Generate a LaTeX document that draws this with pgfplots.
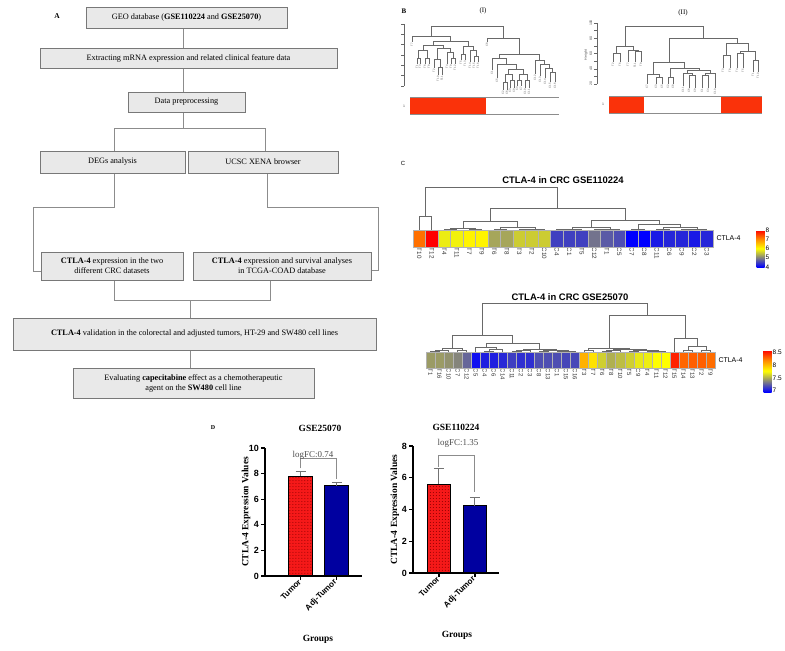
\documentclass[border=0pt]{standalone}
\usepackage{fontspec}
\setmainfont{Liberation Serif}
\setsansfont{Liberation Sans}
\usepackage{pgfplots}
\pgfplotsset{compat=1.18}
\usetikzlibrary{patterns}

\definecolor{boxfill}{RGB}{233,233,233}
\definecolor{boxdraw}{RGB}{120,120,120}
\definecolor{linegray}{RGB}{140,140,140}
\definecolor{dendro}{RGB}{105,105,105}
\definecolor{grpred}{RGB}{250,50,10}
\definecolor{barred}{RGB}{245,25,25}
\definecolor{barblue}{RGB}{0,0,160}

\pgfplotsset{
  colormap={ctla}{rgb255=(0,0,255) rgb255=(128,128,128) rgb255=(255,255,0) rgb255=(255,140,0) rgb255=(255,0,0)},
  /pgf/number format/assume math mode=true,
}

\pgfdeclareplotmark{cellA}{\pgfpathrectangle{\pgfpoint{-6.25bp}{-8.5bp}}{\pgfpoint{12.5bp}{17bp}}\pgfusepathqfillstroke}
\pgfdeclareplotmark{cellB}{\pgfpathrectangle{\pgfpoint{-4.515bp}{-8bp}}{\pgfpoint{9.03bp}{16bp}}\pgfusepathqfillstroke}

\begin{document}
\begin{tikzpicture}[x=1bp,y=-1bp]
\path[use as bounding box] (0,0) rectangle (785,651);

% ---------------- Panel A: flowchart ----------------
\begin{scope}[every node/.style={font=\fontsize{8.3}{10}\selectfont, align=center, inner sep=0pt}]
\tikzset{bx/.style={fill=boxfill, draw=boxdraw, line width=0.9bp}, ln/.style={draw=linegray, line width=0.9bp}}
\node[font=\bfseries\fontsize{7.5}{9}\selectfont] at (57,16) {A};
\draw[ln] (183,28) -- (183,48);
\draw[ln] (183,68) -- (183,92);
\draw[ln] (183,112) -- (183,128);
\draw[ln] (114,151) -- (114,128) -- (265,128) -- (265,151);
\draw[ln] (114,173) -- (114,207) -- (33,207) -- (33,271) -- (41,271);
\draw[ln] (267,173) -- (267,207) -- (378,207) -- (378,270) -- (371,270);
\draw[ln] (114,280) -- (114,300) -- (270,300) -- (270,280);
\draw[ln] (190,300) -- (190,318);
\draw[ln] (190,350) -- (190,368);
\draw[bx] (86,7) rectangle (287,28);
\node at (186.5,17.5) {GEO database (\textbf{GSE110224} and \textbf{GSE25070})};
\draw[bx] (40,48) rectangle (337,68);
\node at (188.5,58) {Extracting mRNA expression and related clinical feature data};
\draw[bx] (128,92) rectangle (245,112);
\node at (186.5,102) {Data preprocessing};
\draw[bx] (40,151) rectangle (185,173);
\node at (112.5,162) {DEGs analysis};
\draw[bx] (188,151) rectangle (338,173);
\node at (263,162) {UCSC XENA browser};
\draw[bx] (41,252) rectangle (183,280);
\node at (112,266) {\textbf{CTLA-4} expression in the two\\different CRC datasets};
\draw[bx] (193,252) rectangle (371,280);
\node at (282,266) {\textbf{CTLA-4} expression and survival analyses\\in TCGA-COAD database};
\draw[bx] (13,318) rectangle (376,350);
\node at (194.5,334) {\textbf{CTLA-4} validation in the colorectal and adjusted tumors, HT-29 and SW480 cell lines};
\draw[bx] (73,368) rectangle (314,398);
\node at (193.5,383) {Evaluating \textbf{capecitabine} effect as a chemotherapeutic\\agent on the \textbf{SW480} cell line};
\end{scope}

% ---------------- Panel B: dendrograms ----------------
\begin{axis}[at={(400bp,0bp)}, anchor=north west, scale only axis, width=385bp, height=120bp,
  xmin=400, xmax=785, ymin=0, ymax=120, y dir=reverse, hide axis, clip=false, unbounded coords=jump]
\addplot[dendro, line width=0.5bp] coordinates {
(417,64)(417,58)(420,58)(420,64)(nan,nan)
(425,64)(425,58)(429,58)(429,64)(nan,nan)
(418.5,58)(418.5,50)(427,50)(427,58)(nan,nan)
(438,75)(438,67)(442,67)(442,75)(nan,nan)
(434,68)(434,59)(440,59)(440,67)(nan,nan)
(451,64)(451,58)(455,58)(455,64)(nan,nan)
(447,64)(447,52)(453,52)(453,58)(nan,nan)
(437,59)(437,48)(450,48)(450,52)(nan,nan)
(422.75,50)(422.75,45)(443.5,45)(443.5,48)(nan,nan)
(461,60)(461,54)(465,54)(465,60)(nan,nan)
(474,62)(474,56)(478,56)(478,62)(nan,nan)
(470,62)(470,50)(476,50)(476,56)(nan,nan)
(463,54)(463,46)(473,46)(473,50)(nan,nan)
(433.1,45)(433.1,41)(468,41)(468,46)(nan,nan)
(412,42)(412,36)(450.55,36)(450.55,41)(nan,nan)
(550,82)(550,72)(555,72)(555,82)(nan,nan)
(545,78)(545,68)(552.5,68)(552.5,72)(nan,nan)
(540,76)(540,64)(548.75,64)(548.75,68)(nan,nan)
(535,74)(535,60)(544.4,60)(544.4,64)(nan,nan)
(503,90)(503,82)(507,82)(507,90)(nan,nan)
(510,88)(510,80)(514,80)(514,88)(nan,nan)
(505,82)(505,74)(512,74)(512,80)(nan,nan)
(517,86)(517,80)(521,80)(521,86)(nan,nan)
(525,88)(525,80)(529,80)(529,88)(nan,nan)
(519,80)(519,74)(527,74)(527,80)(nan,nan)
(508.5,74)(508.5,69)(523,69)(523,74)(nan,nan)
(497,78)(497,64)(515.75,64)(515.75,69)(nan,nan)
(492,70)(492,58)(506.4,58)(506.4,64)(nan,nan)
(499.2,58)(499.2,54)(539.7,54)(539.7,60)(nan,nan)
(487,42)(487,38)(519.45,38)(519.45,54)(nan,nan)
(431.3,36)(431.3,26)(503.2,26)(503.2,38)
};
\addplot[dendro, line width=0.5bp] coordinates {
(613,62)(613,53)(620,53)(620,62)(nan,nan)
(635,62)(635,51)(641,51)(641,62)(nan,nan)
(628,62)(628,50)(638,50)(638,51)(nan,nan)
(616.5,53)(616.5,46.7)(633,46.7)(633,50)(nan,nan)
(656,84)(656,77)(662,77)(662,84)(nan,nan)
(647,84)(647,74)(659,74)(659,77)(nan,nan)
(668,84)(668,77)(673,77)(673,84)(nan,nan)
(689,88)(689,75)(695,75)(695,88)(nan,nan)
(683,86)(683,73)(692,73)(692,75)(nan,nan)
(702,88)(702,75)(708,75)(708,88)(nan,nan)
(705,75)(705,73.5)(715,73.5)(715,88)(nan,nan)
(687.5,73)(687.5,70)(710,70)(710,73.5)(nan,nan)
(670.5,77)(670.5,68)(698.75,68)(698.75,70)(nan,nan)
(653,74)(653,62)(684.6,62)(684.6,68)(nan,nan)
(723,68)(723,55)(730,55)(730,68)(nan,nan)
(737,68)(737,53)(743,53)(743,68)(nan,nan)
(753,72)(753,60)(758,60)(758,72)(nan,nan)
(740,53)(740,51)(755.5,51)(755.5,60)(nan,nan)
(726.5,55)(726.5,43)(747.75,43)(747.75,51)(nan,nan)
(668.8,62)(668.8,38)(737.1,38)(737.1,43)(nan,nan)
(624.75,46.7)(624.75,26)(702.9,26)(702.9,38)
};
% group colour bars
\addplot[fill=grpred, draw=none] coordinates {(410,97)(486,97)(486,114)(410,114)} -- cycle;
\addplot[fill=grpred, draw=none] coordinates {(609,96)(644,96)(644,113)(609,113)} -- cycle;
\addplot[fill=grpred, draw=none] coordinates {(721,96)(762,96)(762,113)(721,113)} -- cycle;
\addplot[black!45, line width=0.5bp] coordinates {(410,97)(559,97)(nan,nan)(410,114)(559,114)};
\addplot[black!45, line width=0.5bp] coordinates {(609,96)(762,96)(nan,nan)(609,113)(762,113)};
\end{axis}
% B leaf labels
\begin{scope}[every node/.style={rotate=90, anchor=east, font=\sffamily\fontsize{2.8}{3}\selectfont, text=black!65, inner sep=0.3pt}]
\foreach \x/\y/\l in {412/42/T7,417/64/T1,420/64/T3,425/64/T6,429/64/T8,434/68/T2,438/75/T10,442/75/T11,447/64/T4,451/64/T9,455/64/T12,461/60/T5,465/60/T13,470/62/T14,474/62/T15,478/62/T16,
  487/42/C8,492/70/C1,497/78/C5,503/90/C2,507/90/C6,510/88/C3,514/88/C9,517/86/C4,521/86/C7,525/88/C10,529/88/C11,535/74/C12,540/76/C13,545/78/C14,550/82/C15,555/82/C16}
  \node at (\x,\y+0.8) {\l};
\foreach \x/\y/\l in {613/62/T2,620/62/T6,628/62/T7,635/62/T11,641/62/T9,
  647/84/C7,656/84/C3,662/84/C5,668/84/C2,673/84/C8,683/86/C11,689/88/C6,695/88/C9,702/88/C1,708/88/C4,715/88/C10,
  723/68/T3,730/68/T8,737/68/T4,743/68/T5,753/72/T1,758/72/T10}
  \node at (\x,\y+0.8) {\l};
\end{scope}
% B axes decorations
\draw[black!60, line width=0.4bp] (404,24) -- (404,86);
\foreach \t in {24,34.33,44.67,55,65.33,75.67,86} \draw[black!60, line width=0.4bp] (401,\t) -- (404,\t);
\draw[black!60, line width=0.4bp] (597,23) -- (597,84);
\foreach \t in {23,30.625,38.25,45.875,53.5,61.125,68.75,76.375,84} \draw[black!60, line width=0.4bp] (594,\t) -- (597,\t);
\foreach \t/\l in {23/100,38.25/80,53.5/60,68.75/40,84/20} \node[rotate=90, font=\sffamily\fontsize{3.5}{4}\selectfont, text=black!70, inner sep=0pt] at (591,\t) {\l};
\node[rotate=90, font=\sffamily\fontsize{3.5}{4}\selectfont, text=black!70, inner sep=0pt] at (586,55) {Height};
\node[font=\sffamily\fontsize{3.5}{4}\selectfont, text=black!70, inner sep=0pt] at (404,106) {1};
\node[font=\sffamily\fontsize{3.5}{4}\selectfont, text=black!70, inner sep=0pt] at (603,104) {1};
\node[font=\bfseries\fontsize{7}{8}\selectfont] at (404,11) {B};
\node[font=\fontsize{7}{8}\selectfont] at (483,11) {(I)};
\node[font=\fontsize{7}{8}\selectfont] at (683,13) {(II)};

% ---------------- Panel C: heatmaps ----------------
\node[font=\sffamily\fontsize{6}{7}\selectfont] at (403,163) {C};
\node[font=\sffamily\bfseries\fontsize{9.5}{11}\selectfont] at (563,180) {CTLA-4 in CRC GSE110224};
\node[font=\sffamily\bfseries\fontsize{9.5}{11}\selectfont] at (570,297) {CTLA-4 in CRC GSE25070};

\begin{axis}[at={(413bp,-230bp)}, anchor=south west, scale only axis, width=300bp, height=42.3bp,
  xmin=-0.5, xmax=23.5, ymin=0, ymax=42.3, hide axis, clip=false, unbounded coords=jump]
\addplot[dendro, line width=0.6bp] coordinates {
(0,0)(0,13.3)(1,13.3)(1,0)(nan,nan)
(2,0)(2,0.5)(3,0.5)(3,0)(nan,nan)
(4,0)(4,0.4)(5,0.4)(5,0)(nan,nan)
(2.5,0.5)(2.5,1.7)(4.5,1.7)(4.5,0.4)(nan,nan)
(6,0)(6,0.3)(7,0.3)(7,0)(nan,nan)
(8,0)(8,0.3)(9,0.3)(9,0)(nan,nan)
(8.5,0.3)(8.5,0.7)(10,0.7)(10,0)(nan,nan)
(6.5,0.3)(6.5,2.7)(9.25,2.7)(9.25,0.7)(nan,nan)
(3.5,1.7)(3.5,8.3)(7.875,8.3)(7.875,2.7)(nan,nan)
(11,0)(11,0.4)(12,0.4)(12,0)(nan,nan)
(11.5,0.4)(11.5,0.8)(13,0.8)(13,0)(nan,nan)
(14,0)(14,0.3)(15,0.3)(15,0)(nan,nan)
(14.5,0.3)(14.5,0.6)(16,0.6)(16,0)(nan,nan)
(12.25,0.8)(12.25,2.7)(15.25,2.7)(15.25,0.6)(nan,nan)
(17,0)(17,0.3)(18,0.3)(18,0)(nan,nan)
(19,0)(19,0.8)(20,0.8)(20,0)(nan,nan)
(21,0)(21,0.4)(22,0.4)(22,0)(nan,nan)
(21.5,0.4)(21.5,1.0)(23,1.0)(23,0)(nan,nan)
(19.5,0.8)(19.5,2.3)(22.25,2.3)(22.25,1.0)(nan,nan)
(17.5,0.3)(17.5,5.7)(20.875,5.7)(20.875,2.3)(nan,nan)
(13.75,2.7)(13.75,9.3)(19.19,9.3)(19.19,5.7)(nan,nan)
(5.69,8.3)(5.69,21.7)(16.47,21.7)(16.47,9.3)(nan,nan)
(0.5,13.3)(0.5,42.3)(11.08,42.3)(11.08,21.7)
};
\end{axis}

\begin{axis}[at={(413bp,-230bp)}, anchor=north west, scale only axis, width=300bp, height=17bp,
  xmin=-0.5, xmax=23.5, ymin=0, ymax=1, axis line style={draw=none}, tick style={draw=none},
  ytick=\empty, xtick={0,...,23},
  xticklabels={T10,T12,T4,T11,T7,T9,T6,T8,T3,T2,C10,C4,C1,T5,C12,T1,C5,C7,C8,C11,C6,C9,C2,C3},
  xticklabel style={rotate=-90, anchor=west, font=\sffamily\fontsize{6.3}{7}\selectfont, text=black!80, inner sep=0.6pt},
  colormap name=ctla, point meta min=4, point meta max=8, clip=false,
  colorbar, colorbar style={at={(parent axis.north east)}, anchor=north west, xshift=35bp,
    scale only axis, width=8bp, height=37bp, ytick={4,5,6,7,8}, axis line style={draw=none},
    yticklabel style={font=\sffamily\fontsize{6.5}{7}\selectfont, inner sep=1pt}}]
\addplot[scatter, only marks, mark=cellA, point meta=explicit,
  scatter/use mapped color={draw=black!30, fill=mapped color}] coordinates {
(0,0.5)[7.2] (1,0.5)[8.0] (2,0.5)[5.85] (3,0.5)[5.9] (4,0.5)[6.1] (5,0.5)[6.1]
(6,0.5)[5.3] (7,0.5)[5.3] (8,0.5)[5.6] (9,0.5)[5.6] (10,0.5)[5.6] (11,0.5)[4.5]
(12,0.5)[4.5] (13,0.5)[4.5] (14,0.5)[4.9] (15,0.5)[4.7] (16,0.5)[4.6] (17,0.5)[4.0]
(18,0.5)[4.0] (19,0.5)[4.2] (20,0.5)[4.3] (21,0.5)[4.3] (22,0.5)[4.2] (23,0.5)[4.3]
};
\node[anchor=west, font=\sffamily\fontsize{7}{8}\selectfont] at (axis cs:23.5,0.5) {CTLA-4};
\end{axis}

\begin{axis}[at={(426bp,-352bp)}, anchor=south west, scale only axis, width=289bp, height=48.3bp,
  xmin=-0.5, xmax=31.5, ymin=0, ymax=48.3, hide axis, clip=false, unbounded coords=jump]
\addplot[dendro, line width=0.6bp] coordinates {
(0,0)(0,1)(1,1)(1,0)(nan,nan)
(0.5,1)(0.5,2)(2,2)(2,0)(nan,nan)
(3,0)(3,1.5)(4,1.5)(4,0)(nan,nan)
(1.25,2)(1.25,3.3)(3.5,3.3)(3.5,1.5)(nan,nan)
(6,0)(6,1.2)(7,1.2)(7,0)(nan,nan)
(6.5,1.2)(6.5,2.3)(8,2.3)(8,0)(nan,nan)
(5,0)(5,4.5)(7.25,4.5)(7.25,2.3)(nan,nan)
(9,0)(9,1)(10,1)(10,0)(nan,nan)
(9.5,1)(9.5,2)(11,2)(11,0)(nan,nan)
(12,0)(12,0.8)(13,0.8)(13,0)(nan,nan)
(14,0)(14,0.6)(15,0.6)(15,0)(nan,nan)
(14.5,0.6)(14.5,1)(16,1)(16,0)(nan,nan)
(12.5,0.8)(12.5,1.5)(15.25,1.5)(15.25,1)(nan,nan)
(10.25,2)(10.25,3)(13.875,3)(13.875,1.5)(nan,nan)
(6.125,4.5)(6.125,8.7)(12.06,8.7)(12.06,3)(nan,nan)
(2.375,3.3)(2.375,16.7)(9.09,16.7)(9.09,8.7)(nan,nan)
(17,0)(17,1.5)(18,1.5)(18,0)(nan,nan)
(19,0)(19,0.8)(20,0.8)(20,0)(nan,nan)
(19.5,0.8)(19.5,1.3)(21,1.3)(21,0)(nan,nan)
(22,0)(22,0.6)(23,0.6)(23,0)(nan,nan)
(24,0)(24,0.5)(25,0.5)(25,0)(nan,nan)
(24.5,0.5)(24.5,0.9)(26,0.9)(26,0)(nan,nan)
(22.5,0.6)(22.5,1.6)(25.25,1.6)(25.25,0.9)(nan,nan)
(20.25,1.3)(20.25,2.5)(23.875,2.5)(23.875,1.6)(nan,nan)
(17.5,1.5)(17.5,3.3)(22.06,3.3)(22.06,2.5)(nan,nan)
(28,0)(28,1.5)(29,1.5)(29,0)(nan,nan)
(30,0)(30,1.5)(31,1.5)(31,0)(nan,nan)
(28.5,1.5)(28.5,5.3)(30.5,5.3)(30.5,1.5)(nan,nan)
(27,0)(27,13.3)(29.5,13.3)(29.5,5.3)(nan,nan)
(19.78,3.3)(19.78,36.7)(28.25,36.7)(28.25,13.3)(nan,nan)
(5.73,16.7)(5.73,48.3)(24,48.3)(24,36.7)
};
\end{axis}

\begin{axis}[at={(426bp,-352bp)}, anchor=north west, scale only axis, width=289bp, height=16bp,
  xmin=-0.5, xmax=31.5, ymin=0, ymax=1, axis line style={draw=none}, tick style={draw=none},
  ytick=\empty, xtick={0,...,31},
  xticklabels={T1,T16,C10,C7,C12,C5,C4,C6,C14,C11,C2,C3,C8,C13,C1,C15,C16,T3,T7,T6,T8,T10,T5,C9,T4,T11,T12,T15,T14,T13,T2,T9},
  xticklabel style={rotate=-90, anchor=west, font=\sffamily\fontsize{6}{6.5}\selectfont, text=black!80, inner sep=0.5pt},
  colormap name=ctla, point meta min=6.95, point meta max=8.6, clip=false,
  colorbar, colorbar style={at={(parent axis.north east)}, anchor=north west, xshift=40bp, yshift=2bp,
    scale only axis, width=8bp, height=42bp, ytick={7,7.5,8,8.5}, axis line style={draw=none},
    yticklabel style={font=\sffamily\fontsize{6.5}{7}\selectfont, inner sep=1pt}}]
\addplot[scatter, only marks, mark=cellB, point meta=explicit,
  scatter/use mapped color={draw=black!30, fill=mapped color}] coordinates {
(0,0.5)[7.45] (1,0.5)[7.45] (2,0.5)[7.42] (3,0.5)[7.38] (4,0.5)[7.28] (5,0.5)[7.0]
(6,0.5)[7.05] (7,0.5)[7.05] (8,0.5)[7.08] (9,0.5)[7.15] (10,0.5)[7.1] (11,0.5)[7.1]
(12,0.5)[7.2] (13,0.5)[7.2] (14,0.5)[7.2] (15,0.5)[7.18] (16,0.5)[7.18] (17,0.5)[8.05]
(18,0.5)[7.88] (19,0.5)[7.62] (20,0.5)[7.52] (21,0.5)[7.56] (22,0.5)[7.62] (23,0.5)[7.7]
(24,0.5)[7.72] (25,0.5)[7.78] (26,0.5)[7.78] (27,0.5)[8.5] (28,0.5)[8.3] (29,0.5)[8.32]
(30,0.5)[8.32] (31,0.5)[8.28]
};
\node[anchor=west, font=\sffamily\fontsize{7}{8}\selectfont] at (axis cs:31.5,0.5) {CTLA-4};
\end{axis}

% ---------------- Panel D: bar charts ----------------
\pgfplotsset{barax/.style={scale only axis, anchor=south west, ymin=0,
  axis x line*=bottom, axis y line*=left, axis line style={-, line width=1.2bp, black},
  xtick={0,1}, xticklabels={Tumor,Adj-Tumor}, tick align=outside, major tick length=4bp,
  tick style={line width=1.2bp, black},
  xticklabel style={rotate=45, anchor=east, font=\sffamily\bfseries\fontsize{8.2}{9}\selectfont, inner sep=1pt},
  yticklabel style={font=\sffamily\bfseries\fontsize{9}{10}\selectfont, inner sep=2pt},
  ylabel={CTLA-4 Expression Values}, clip=false},
  tumorbar/.style={ybar, bar width=0.65, bar shift=0pt, fill=barred, draw=black, line width=1.2bp,
    postaction={pattern=dots, pattern color=red!55!black},
    error bars/.cd, y dir=plus, y explicit,
    error bar style={line width=1bp, draw=black!55},
    error mark options={rotate=90, mark size=5bp, line width=1bp, draw=black!55}},
  adjbar/.style={ybar, bar width=0.65, bar shift=0pt, fill=barblue, draw=black, line width=1.2bp,
    error bars/.cd, y dir=plus, y explicit,
    error bar style={line width=1bp, draw=black!55},
    error mark options={rotate=90, mark size=5bp, line width=1bp, draw=black!55}}}

\begin{axis}[barax, at={(265bp,-576bp)}, width=97bp, height=128bp, xmin=-0.99, xmax=1.71,
  ymax=10, ytick={0,2,...,10},
  ylabel style={font=\bfseries\fontsize{9.5}{11}\selectfont, at={(axis description cs:-0.196,0.5)}, anchor=center}]
\addplot[tumorbar] coordinates {(0,7.8) +- (0,0.4)};
\addplot[adjbar] coordinates {(1,7.05) +- (0,0.25)};
\addplot[linegray, line width=1bp] coordinates {(0,8.4) (0,9.2) (1,9.2) (1,7.6)};
\end{axis}

\begin{axis}[barax, at={(413bp,-573bp)}, width=86bp, height=127bp, xmin=-0.72, xmax=1.67,
  ymax=8, ytick={0,2,...,8},
  ylabel style={font=\bfseries\fontsize{9.5}{11}\selectfont, at={(axis description cs:-0.21,0.5)}, anchor=center}]
\addplot[tumorbar] coordinates {(0,5.6) +- (0,1.0)};
\addplot[adjbar] coordinates {(1,4.25) +- (0,0.5)};
\addplot[linegray, line width=1bp] coordinates {(0,6.7) (0,7.4) (1,7.4) (1,5.1)};
\end{axis}

\node[font=\bfseries\fontsize{6}{7}\selectfont] at (213,428) {D};
\node[font=\bfseries\fontsize{9.5}{11}\selectfont] at (320,428) {GSE25070};
\node[font=\bfseries\fontsize{9.5}{11}\selectfont] at (456,427) {GSE110224};
\node[font=\fontsize{9}{10}\selectfont, text=black!70] at (313,455) {logFC:0.74};
\node[font=\fontsize{9}{10}\selectfont, text=black!70] at (458,443) {logFC:1.35};
\node[font=\bfseries\fontsize{9.5}{11}\selectfont] at (318,639) {Groups};
\node[font=\bfseries\fontsize{9.5}{11}\selectfont] at (457,635) {Groups};
\end{tikzpicture}
\end{document}
